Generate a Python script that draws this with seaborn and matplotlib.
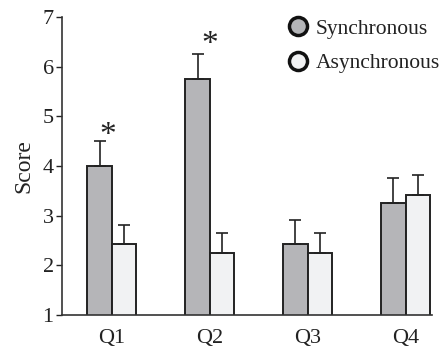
import matplotlib
matplotlib.use("Agg")
import matplotlib.pyplot as plt
from matplotlib.lines import Line2D
import seaborn as sns
import pandas as pd
import numpy as np

questions = ["Q1", "Q2", "Q3", "Q4"]
groups = ["Synchronous", "Asynchronous"]
sync_mean = [4.0, 5.75, 2.42, 3.25]
async_mean = [2.42, 2.25, 2.25, 3.42]
sync_err = [0.5, 0.5, 0.5, 0.5]
async_err = [0.4, 0.4, 0.4, 0.4]
star_q = ["Q1", "Q2"]
star_y = [4.6, 6.45]

colors = {"Synchronous": "#b4b5b8", "Asynchronous": "#f1f2f3"}

df = pd.DataFrame({
    "Question": questions * 2,
    "Group": [groups[0]] * 4 + [groups[1]] * 4,
    "Score": sync_mean + async_mean,
    "Err": sync_err + async_err,
})

sns.set_style("ticks")
plt.rcParams["font.family"] = ["Liberation Serif", "DejaVu Serif"]

fig = plt.figure(figsize=(4.43, 3.49), dpi=100)
ax = fig.add_axes([0.14, 0.0974, 0.835, 0.854])

sns.barplot(data=df, x="Question", y="Score", hue="Group", order=questions,
            hue_order=groups, palette=colors, width=0.5, edgecolor="#222222",
            linewidth=1.4, errorbar=None, legend=False, ax=ax)

# error bars (upper only)
for cont, g in zip(ax.containers, groups):
    sub = df[df["Group"] == g].set_index("Question").loc[questions]
    xs = [p.get_x() + p.get_width() / 2 for p in cont.patches]
    ys = sub["Score"].values
    es = sub["Err"].values
    ax.errorbar(xs, ys, yerr=[np.zeros_like(es), es], fmt="none",
                ecolor="#222222", elinewidth=1.2, capsize=4, capthick=1.2,
                zorder=1)

offs = {"Q1": -0.04, "Q2": 0.0}
for q, y in zip(star_q, star_y):
    ax.text(questions.index(q) + offs[q], y, "*", ha="center", va="center",
            fontsize=24, color="#222222")

ax.set_ylim(1, 7)
ax.set_xlim(-0.51, 3.27)
ax.set_yticks([1, 2, 3, 4, 5, 6, 7])
ax.set_xlabel("")
ax.set_ylabel("Score", fontsize=17, color="#222222", labelpad=6)
ax.tick_params(axis="y", labelsize=16, length=4, width=1, colors="#222222", pad=2)
ax.tick_params(axis="x", labelsize=16, length=0, pad=10, colors="#222222")
for s in ["top", "right"]:
    ax.spines[s].set_visible(False)
for s in ["left", "bottom"]:
    ax.spines[s].set_color("#333333")
    ax.spines[s].set_linewidth(1.2)

handles = [Line2D([], [], marker="o", linestyle="none", markersize=13,
                  markerfacecolor=colors[g], markeredgecolor="#111111",
                  markeredgewidth=2.5) for g in groups]
leg = ax.legend(handles, groups, loc="upper right", bbox_to_anchor=(1.074, 1.06),
                frameon=False, fontsize=15.5, handletextpad=0.1,
                labelspacing=0.68, handlelength=1.4)
for t in leg.get_texts():
    t.set_color("#222222")

fig.savefig("out.png", dpi=100)
